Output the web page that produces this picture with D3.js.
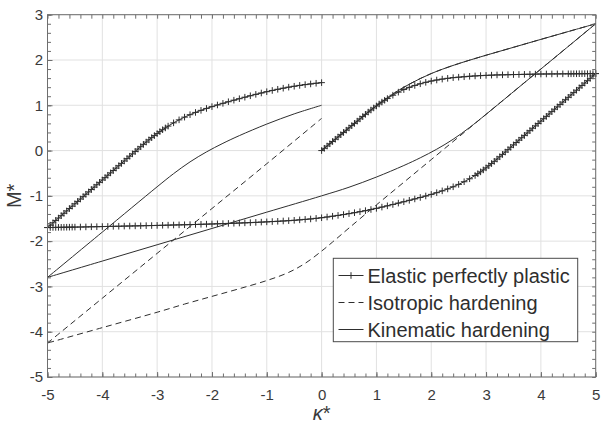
<!DOCTYPE html>
<html><head><meta charset="utf-8">
<script src="https://cdn.jsdelivr.net/npm/d3@7/dist/d3.min.js"></script>
<style>
html,body{margin:0;padding:0;background:#fff;}
svg{display:block;font-family:"Liberation Sans",Arial,Helvetica,sans-serif;}
</style></head><body>
<svg id="chart" width="604" height="424"></svg>
<script>
// ---------------- data ----------------
const xTicks = [-5,-4,-3,-2,-1,0,1,2,3,4,5];
const yTicks = [-5,-4,-3,-2,-1,0,1,2,3];
const legendLabels = ["Elastic perfectly plastic","Isotropic hardening","Kinematic hardening"];

// Elastic perfectly plastic: [kappa*, M*]
const eppLoading = [
[0,0],[0.05,0.05],[0.1,0.1],[0.15,0.15],[0.2,0.2],[0.25,0.25],[0.3,0.3],[0.35,0.35],[0.4,0.4],[0.45,0.45],
[0.5,0.5],[0.55,0.55],[0.6,0.6],[0.65,0.65],[0.7,0.7],[0.75,0.75],[0.8,0.8],[0.85,0.85],[0.9,0.895],[0.95,0.94],
[1.0,0.985],[1.05,1.028],[1.1,1.07],[1.15,1.11],[1.2,1.148],[1.3,1.222],[1.4,1.29],[1.5,1.347],[1.6,1.395],[1.7,1.438],
[1.8,1.475],[1.9,1.507],[2.0,1.535],[2.1,1.558],[2.2,1.578],[2.3,1.595],[2.4,1.61],[2.5,1.62],[2.6,1.63],[2.7,1.64],
[2.8,1.648],[2.9,1.655],[3.0,1.66],[3.1,1.665],[3.2,1.67],[3.3,1.672],[3.4,1.675],[3.5,1.678],[3.6,1.68],[3.7,1.683],
[3.8,1.685],[3.9,1.688],[4.0,1.69],[4.1,1.691],[4.2,1.692],[4.3,1.693],[4.4,1.694],[4.5,1.695],[4.55,1.695],[4.6,1.696],
[4.65,1.696],[4.7,1.697],[4.75,1.697],[4.8,1.698],[4.85,1.698],[4.9,1.699],[4.95,1.699],[5.0,1.70]
];
const eppUnloading = [
[5.0,1.70],[4.95,1.648],[4.9,1.595],[4.85,1.543],[4.8,1.49],[4.75,1.438],[4.7,1.385],[4.65,1.333],[4.6,1.28],[4.55,1.228],
[4.5,1.175],[4.45,1.123],[4.4,1.07],[4.35,1.018],[4.3,0.965],[4.25,0.913],[4.2,0.86],[4.15,0.808],[4.1,0.755],[4.05,0.703],
[4.0,0.65],[3.95,0.598],[3.9,0.545],[3.85,0.493],[3.8,0.44],[3.75,0.388],[3.7,0.335],[3.65,0.283],[3.6,0.23],[3.55,0.178],
[3.5,0.125],[3.45,0.073],[3.4,0.02],[3.35,-0.033],[3.3,-0.085],[3.25,-0.137],[3.2,-0.188],[3.15,-0.238],[3.1,-0.287],[3.05,-0.335],
[3.0,-0.382],[2.95,-0.427],[2.9,-0.47],[2.85,-0.511],[2.8,-0.55],[2.7,-0.623],[2.6,-0.688],[2.5,-0.747],[2.4,-0.80],[2.3,-0.847],
[2.2,-0.89],[2.1,-0.93],[2.0,-0.968],[1.9,-1.003],[1.8,-1.036],[1.7,-1.068],[1.6,-1.099],[1.5,-1.13],[1.4,-1.16],[1.3,-1.19],
[1.2,-1.22],[1.1,-1.248],[1.0,-1.276],[0.9,-1.302],[0.8,-1.327],[0.7,-1.35],[0.6,-1.372],[0.5,-1.393],[0.4,-1.413],[0.3,-1.432],
[0.2,-1.45],[0.1,-1.467],[0.0,-1.483],[-0.1,-1.497],[-0.2,-1.51],[-0.3,-1.52],[-0.4,-1.53],[-0.5,-1.54],[-0.6,-1.548],[-0.7,-1.555],
[-0.8,-1.562],[-0.9,-1.568],[-1.0,-1.574],[-1.1,-1.58],[-1.2,-1.586],[-1.3,-1.591],[-1.4,-1.596],[-1.5,-1.60],[-1.6,-1.605],[-1.7,-1.609],
[-1.8,-1.613],[-1.9,-1.617],[-2.0,-1.621],[-2.1,-1.625],[-2.2,-1.628],[-2.3,-1.632],[-2.4,-1.635],[-2.5,-1.638],[-2.6,-1.641],[-2.7,-1.644],
[-2.8,-1.647],[-2.9,-1.65],[-3.0,-1.653],[-3.1,-1.656],[-3.2,-1.658],[-3.3,-1.661],[-3.4,-1.663],[-3.5,-1.666],[-3.6,-1.668],[-3.7,-1.671],
[-3.8,-1.673],[-3.9,-1.676],[-4.0,-1.678],[-4.1,-1.681],[-4.2,-1.683],[-4.3,-1.686],[-4.4,-1.688],[-4.5,-1.69],[-4.55,-1.691],[-4.6,-1.692],
[-4.65,-1.693],[-4.7,-1.694],[-4.75,-1.695],[-4.8,-1.696],[-4.85,-1.697],[-4.9,-1.698],[-4.95,-1.699],[-5.0,-1.70]
];
const eppReloading = [
[-5.0,-1.70],[-4.95,-1.648],[-4.9,-1.595],[-4.85,-1.543],[-4.8,-1.49],[-4.75,-1.438],[-4.7,-1.385],[-4.65,-1.333],[-4.6,-1.28],[-4.55,-1.228],
[-4.5,-1.175],[-4.45,-1.123],[-4.4,-1.07],[-4.35,-1.018],[-4.3,-0.965],[-4.25,-0.913],[-4.2,-0.86],[-4.15,-0.808],[-4.1,-0.755],[-4.05,-0.703],
[-4.0,-0.65],[-3.95,-0.598],[-3.9,-0.545],[-3.85,-0.493],[-3.8,-0.44],[-3.75,-0.388],[-3.7,-0.335],[-3.65,-0.283],[-3.6,-0.23],[-3.55,-0.178],
[-3.5,-0.125],[-3.45,-0.073],[-3.4,-0.02],[-3.35,0.033],[-3.3,0.085],[-3.25,0.137],[-3.2,0.188],[-3.15,0.237],[-3.1,0.285],[-3.05,0.331],
[-3.0,0.375],[-2.95,0.418],[-2.9,0.46],[-2.85,0.50],[-2.8,0.54],[-2.7,0.612],[-2.6,0.678],[-2.5,0.738],[-2.4,0.792],[-2.3,0.842],
[-2.2,0.888],[-2.1,0.93],[-2.0,0.97],[-1.9,1.007],[-1.8,1.043],[-1.7,1.078],[-1.6,1.112],[-1.5,1.145],[-1.4,1.178],[-1.3,1.21],
[-1.2,1.241],[-1.1,1.271],[-1.0,1.30],[-0.9,1.327],[-0.8,1.353],[-0.7,1.377],[-0.6,1.40],[-0.5,1.42],[-0.4,1.439],[-0.3,1.456],
[-0.2,1.471],[-0.1,1.486],[0.0,1.50]
];

// Isotropic hardening
const isoLoading = [[0,0],[0.5,0.5],[1.0,0.99],[1.2,1.165],[1.4,1.325],[1.6,1.465],[1.8,1.59],[2.0,1.70],[2.2,1.795],[2.5,1.92],[3.0,2.105],[3.5,2.28],[4.0,2.455],[4.5,2.628],[5.0,2.80]];
const isoUnloading = [[5.0,2.80],[4.0,1.80],[3.0,0.80],[2.0,-0.20],[1.5,-0.70],[1.0,-1.20],[0.5,-1.71],[0.2,-2.02],[0.0,-2.22],
[-0.3,-2.49],[-0.6,-2.69],[-1.0,-2.87],[-1.5,-3.05],[-2.0,-3.22],[-2.5,-3.39],[-3.0,-3.57],[-4.0,-3.91],[-5.0,-4.25]];
const isoReloading = [[-5.0,-4.25],[-4.0,-3.26],[-3.0,-2.27],[-2.0,-1.28],[-1.0,-0.29],[0.0,0.71]];

// Kinematic hardening
const kinLoading = [[0,0],[0.5,0.5],[1.0,0.99],[1.2,1.165],[1.4,1.325],[1.6,1.465],[1.8,1.59],[2.0,1.70],[2.2,1.795],[2.5,1.92],[3.0,2.105],[3.5,2.28],[4.0,2.455],[4.5,2.628],[5.0,2.80]];
const kinUnloading = [[5.0,2.80],[4.0,1.80],[3.0,0.80],[2.7,0.51],[2.4,0.25],[2.1,0.03],[1.8,-0.16],[1.5,-0.33],[1.0,-0.585],
[0.5,-0.81],[0.0,-1.00],[-1.0,-1.36],[-2.0,-1.72],[-3.0,-2.08],[-4.0,-2.44],[-5.0,-2.80]];
const kinReloading = [[-5.0,-2.80],[-4.0,-1.80],[-3.0,-0.80],[-2.7,-0.51],[-2.4,-0.25],[-2.1,-0.03],[-1.8,0.16],[-1.5,0.33],
[-1.0,0.585],[-0.5,0.81],[0.0,1.00]];

// ---------------- drawing ----------------
const svg = d3.select("#chart");
const L = 47.5, R = 595.7, T = 14.7, B = 377;
const x = d3.scaleLinear().domain([-5,5]).range([L,R]);
const y = d3.scaleLinear().domain([-5,3]).range([B,T]);
const minorX = d3.range(-5,5.0001,0.2).map(v=>+v.toFixed(1));
const minorY = d3.range(-5,3.0001,0.2).map(v=>+v.toFixed(1));
const frameCol = "#6e6e6e", gridCol = "#e1e1e1", textCol = "#3a3a3a", lineCol = "#2e2e2e";

// grid
const g = svg.append("g");
g.selectAll(".gx").data(xTicks).enter().append("line")
  .attr("x1",d=>x(d)).attr("x2",d=>x(d)).attr("y1",T).attr("y2",B)
  .attr("stroke",gridCol).attr("stroke-width",1);
g.selectAll(".gy").data(yTicks).enter().append("line")
  .attr("y1",d=>y(d)).attr("y2",d=>y(d)).attr("x1",L).attr("x2",R)
  .attr("stroke",gridCol).attr("stroke-width",1);

// series
const lineLin = d3.line().x(d=>x(d[0])).y(d=>y(d[1]));
const lineSmooth = d3.line().x(d=>x(d[0])).y(d=>y(d[1])).curve(d3.curveCatmullRom.alpha(0.5));
const plot = svg.append("g");
[eppLoading,eppUnloading,eppReloading].forEach(seg=>{
  plot.append("path").attr("d",lineLin(seg)).attr("fill","none").attr("stroke",lineCol).attr("stroke-width",1);
  plot.append("g").selectAll("path").data(seg).enter().append("path")
    .attr("d","M-3.3,0H3.3M0,-3.3V3.3")
    .attr("transform",d=>`translate(${x(d[0])},${y(d[1])})`)
    .attr("stroke",lineCol).attr("stroke-width",1).attr("fill","none");
});
[isoLoading,isoUnloading,isoReloading].forEach(seg=>{
  plot.append("path").attr("d",lineSmooth(seg)).attr("fill","none").attr("stroke",lineCol)
    .attr("stroke-width",1).attr("stroke-dasharray","6,4");
});
[kinLoading,kinUnloading,kinReloading].forEach(seg=>{
  plot.append("path").attr("d",lineSmooth(seg)).attr("fill","none").attr("stroke",lineCol).attr("stroke-width",1);
});

// axes (ticks inward on all four sides)
function styleAxis(sel){
  sel.select(".domain").remove();
  sel.selectAll(".tick line").attr("stroke",frameCol);
  sel.selectAll(".tick text").attr("fill",textCol).style("font-size","15px")
     .style("font-family","'Liberation Sans',Arial,sans-serif");
}
const fmt = d=> d<0 ? "-"+Math.abs(d) : String(d);
svg.append("g").attr("transform",`translate(0,${B})`)
  .call(d3.axisBottom(x).tickValues(xTicks).tickSize(-5).tickPadding(12).tickFormat(fmt)).call(styleAxis);
svg.append("g").attr("transform",`translate(0,${B})`)
  .call(d3.axisBottom(x).tickValues(minorX).tickSize(-3.5).tickFormat("")).call(styleAxis);
svg.append("g").attr("transform",`translate(0,${T})`)
  .call(d3.axisTop(x).tickValues(minorX).tickSize(-4).tickFormat("")).call(styleAxis);
svg.append("g").attr("transform",`translate(${L},0)`)
  .call(d3.axisLeft(y).tickValues(yTicks).tickSize(-5).tickPadding(4.5).tickFormat(fmt)).call(styleAxis);
svg.append("g").attr("transform",`translate(${L},0)`)
  .call(d3.axisLeft(y).tickValues(minorY).tickSize(-3.5).tickFormat("")).call(styleAxis);
svg.append("g").attr("transform",`translate(${R},0)`)
  .call(d3.axisRight(y).tickValues(minorY).tickSize(-3.5).tickFormat("")).call(styleAxis);

// frame
svg.append("rect").attr("x",L).attr("y",T).attr("width",R-L).attr("height",B-T)
  .attr("fill","none").attr("stroke",frameCol).attr("stroke-width",1);

// axis labels
svg.append("text").attr("transform",`translate(21,${(T+B)/2}) rotate(-90)`)
  .attr("text-anchor","middle").attr("fill",textCol).style("font-size","20px").text("M*");
const xl = svg.append("text").attr("x",(L+R)/2).attr("y",420).attr("text-anchor","middle")
  .attr("fill",textCol).style("font-size","20px");
xl.append("tspan").style("font-style","italic").text("κ");
xl.append("tspan").text("*");

// legend
const lg = svg.append("g");
lg.append("rect").attr("x",333.3).attr("y",258.3).attr("width",244.4).attr("height",83.4)
  .attr("fill","#fff").attr("stroke","#4a4a4a").attr("stroke-width",1);
const rowY = [275.5, 302.5, 329.5];
legendLabels.forEach((lab,i)=>{
  const ln = lg.append("line").attr("x1",338.5).attr("x2",363.5).attr("y1",rowY[i]).attr("y2",rowY[i])
    .attr("stroke",lineCol).attr("stroke-width",1);
  if(i===1) ln.attr("stroke-dasharray","6,4");
  if(i===0) lg.append("path").attr("d","M-3.3,0H3.3M0,-3.3V3.3")
    .attr("transform",`translate(351,${rowY[i]})`).attr("stroke",lineCol).attr("stroke-width",1);
  lg.append("text").attr("x",367.5).attr("y",rowY[i]+7.2).attr("fill","#2e2e2e")
    .style("font-size","20px").text(lab);
});
</script>
</body></html>
